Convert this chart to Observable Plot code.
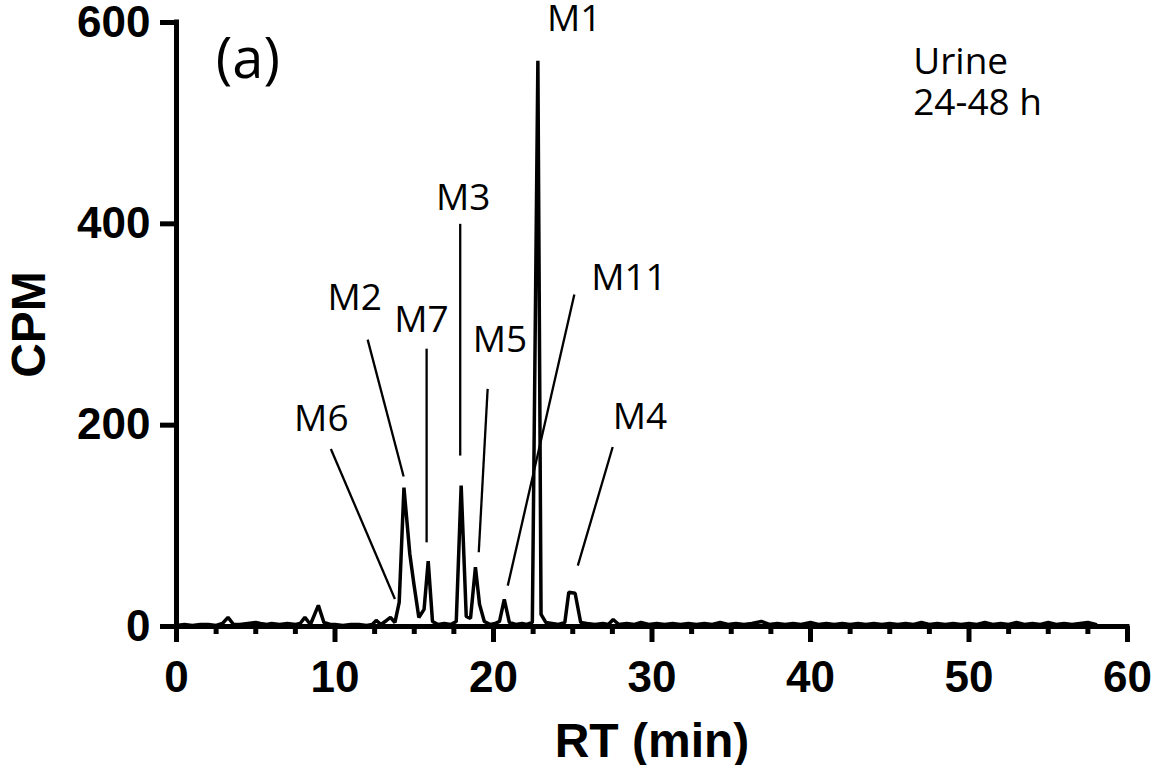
<!DOCTYPE html>
<html>
<head>
<meta charset="utf-8">
<script src="https://cdn.jsdelivr.net/npm/d3@7"></script>
<script src="https://cdn.jsdelivr.net/npm/@observablehq/plot@0.6"></script>
<style>
  html, body { margin: 0; padding: 0; background: #fff; }
  #chart { width: 1153px; height: 765px; }
</style>
</head>
<body>
<div id="chart"></div>
<script>
// Retention time (min) and radioactivity (CPM)
const rt = [0, 0.5, 1, 1.5, 2, 2.5, 2.9, 3.25, 3.6, 4, 4.5, 5, 5.3, 5.7, 6, 6.5, 7, 7.5, 7.8, 8.1,
  8.45, 8.95, 9.3, 9.7, 10, 10.5, 11, 11.5, 12, 12.35, 12.6, 12.9, 13.25, 13.5, 13.78, 14.05, 14.35, 14.72, 14.98, 15.29,
  15.62, 15.88, 16.15, 16.5, 16.9, 17.3, 17.65, 17.96, 18.28, 18.55, 18.86, 19.12, 19.42, 19.8, 20.1, 20.38, 20.68, 21.0, 21.4, 21.8,
  22.1, 22.45, 22.8, 23.0, 23.3, 23.7, 24.1, 24.5, 24.75, 25.15, 25.5, 25.9, 26.4, 26.9, 27.25, 27.55, 27.9, 28.4, 28.9, 29.3,
  29.8, 30.3, 30.8, 31.3, 31.8, 32.3, 32.8, 33.3, 33.8, 34.3, 34.8, 35.3, 35.8, 36.3, 36.9, 37.4, 37.9, 38.4, 38.9, 39.4,
  40, 40.5, 41, 41.5, 42, 42.5, 43, 43.5, 44, 44.5, 45, 45.5, 46, 46.5, 47, 47.5, 48, 48.5, 49, 49.5,
  50, 50.5, 51, 51.5, 52, 52.5, 53, 53.5, 54, 54.5, 55, 55.5, 56, 56.5, 57, 57.5, 58];
const cpm = [1, 2, 1, 2, 2, 1, 3, 9, 2, 2, 3, 4, 3, 2, 3, 2, 3, 2, 3, 9,
  2, 21, 4, 2, 2, 1, 2, 2, 1, 2, 6, 2, 6, 9, 4, 24, 138, 72, 42, 9,
  17, 65, 5, 2, 3, 2, 5, 140, 10, 8, 59, 22, 5, 2, 3, 5, 27, 4, 2, 3,
  2, 4, 562, 12, 4, 3, 2, 4, 34, 33, 4, 3, 2, 3, 2, 7, 2, 3, 2, 4,
  2, 3, 2, 3, 2, 3, 2, 3, 2, 4, 2, 3, 2, 3, 5, 2, 3, 2, 3, 2,
  4, 2, 3, 2, 3, 2, 3, 2, 3, 2, 3, 2, 3, 2, 4, 2, 3, 2, 3, 2,
  3, 2, 4, 2, 3, 2, 4, 2, 3, 2, 4, 2, 3, 2, 3, 4, 2];

// Peak labels: text, anchor position (baseline, left edge) and leader line ends
const peakNames = ["M1", "M2", "M7", "M5", "M6", "M3", "M11", "M4"];
const labelRt   = [23.38, 9.53, 13.74, 18.69, 7.42, 16.37, 26.16, 27.52];
const labelCpm  = [592, 314.6, 293, 272.5, 194.6, 413.3, 333.8, 196.3];
const leaderNames = ["M6", "M2", "M7", "M3", "M5", "M11", "M4"];
const leaderRt1  = [9.74, 12.06, 15.78, 17.9, 19.63, 25.1, 27.52];
const leaderCpm1 = [176.4, 285, 276, 400, 236, 329.8, 178.3];
const leaderRt2  = [13.78, 14.33, 15.78, 17.9, 19.07, 20.9, 25.32];
const leaderCpm2 = [27.3, 149, 83.6, 169.8, 73.7, 40.6, 60.4];

// Panel texts
const panelText = ["(a)"];
const panelRt = [2.48];
const panelCpm = [545];
const sampleText = ["Urine", "24-48 h"];
const sampleRt = [46.48, 46.48];
const sampleCpm = [549, 508];

// Axis ticks
const xTicks = [0, 10, 20, 30, 40, 50, 60];
const xMinorTicks = d3.range(0, 60.01, 2.5).filter(v => v % 10 !== 0);
const yTicks = [0, 200, 400, 600];
const xTitle = "RT (min)";
const yTitle = "CPM";

const trace = rt.map((t, i) => ({rt: t, cpm: cpm[i]}));
const labels = peakNames.map((n, i) => ({name: n, rt: labelRt[i], cpm: labelCpm[i]}));
const leaders = leaderNames.map((n, i) => ({name: n, x1: leaderRt1[i], y1: leaderCpm1[i], x2: leaderRt2[i], y2: leaderCpm2[i]}));
const panel = panelText.map((n, i) => ({name: n, rt: panelRt[i], cpm: panelCpm[i]}));
const sample = sampleText.map((n, i) => ({name: n, rt: sampleRt[i], cpm: sampleCpm[i]}));

const boldFont = "'Liberation Sans', Arial, sans-serif";
const labelFont = "'Open Sans', 'Noto Sans', sans-serif";

const chart = Plot.plot({
  width: 1153,
  height: 765,
  marginLeft: 176,
  marginRight: 26,
  marginTop: 22,
  marginBottom: 139,
  style: {background: "#fff", color: "#000", fontFamily: boldFont, overflow: "visible"},
  x: {domain: [0, 60]},
  y: {domain: [0, 600]},
  marks: [
    Plot.axisX({ticks: xMinorTicks, tickSize: 8, tickFormat: () => "", strokeWidth: 5, label: null}),
    Plot.axisX({ticks: xTicks, tickSize: 16, tickPadding: 18, strokeWidth: 5, fontSize: 44, fontWeight: "bold", fontFamily: boldFont, label: null}),
    Plot.axisY({ticks: yTicks, tickSize: 16, tickPadding: 10, strokeWidth: 5, fontSize: 44, fontWeight: "bold", fontFamily: boldFont, label: null}),
    Plot.ruleY([0], {strokeWidth: 5, strokeLinecap: "square"}),
    Plot.ruleX([0], {strokeWidth: 5, strokeLinecap: "square"}),
    Plot.line(trace, {x: "rt", y: "cpm", stroke: "#000", strokeWidth: 3.5, strokeLinejoin: "miter"}),
    Plot.link(leaders, {x1: "x1", y1: "y1", x2: "x2", y2: "y2", stroke: "#000", strokeWidth: 2.3}),
    Plot.text(labels, {x: "rt", y: "cpm", text: "name", textAnchor: "start", lineAnchor: "bottom", fontSize: 37, fontFamily: labelFont, fill: "#000"}),
    Plot.text(panel, {x: "rt", y: "cpm", text: "name", textAnchor: "start", lineAnchor: "bottom", fontSize: 56, fontFamily: labelFont, fill: "#000"}),
    Plot.text(sample, {x: "rt", y: "cpm", text: "name", textAnchor: "start", lineAnchor: "bottom", fontSize: 37, fontFamily: labelFont, fill: "#000"}),
    Plot.text([xTitle], {frameAnchor: "bottom", lineAnchor: "top", dy: 96, fontSize: 48, fontWeight: "bold", fontFamily: boldFont, fill: "#000"}),
    Plot.text([yTitle], {frameAnchor: "left", rotate: -90, textAnchor: "middle", lineAnchor: "middle", dx: -147, fontSize: 48, fontWeight: "bold", fontFamily: boldFont, fill: "#000"})
  ]
});
document.getElementById("chart").appendChild(chart);
</script>
</body>
</html>
